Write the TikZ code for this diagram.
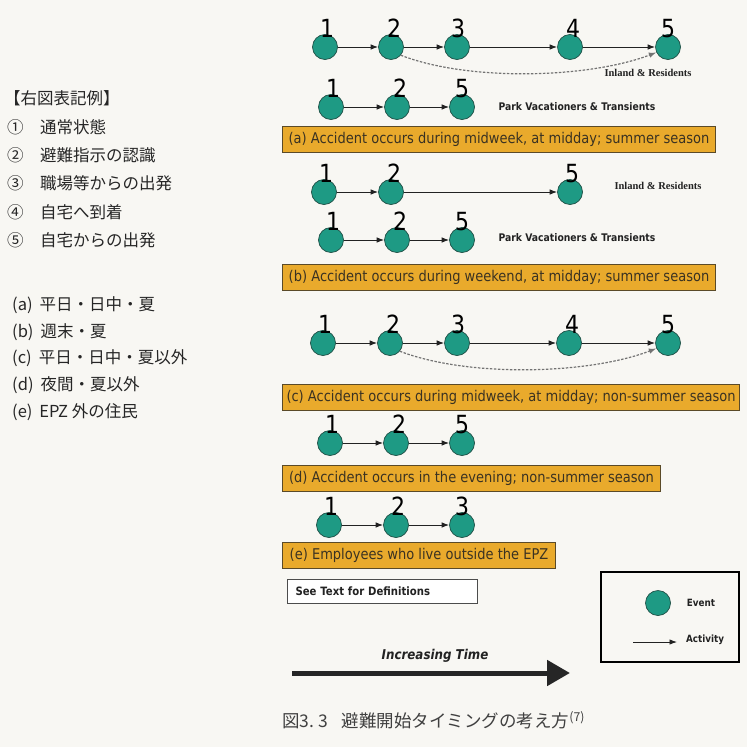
\documentclass[tikz,border=0pt]{standalone}
\usepackage{fontspec}
\setmainfont[FakeStretch=0.88]{DejaVu Sans}
\newfontfamily\tah[FakeStretch=0.88]{DejaVu Sans}
\newfontfamily\serb{Liberation Serif}
\newfontfamily\jp{Noto Sans CJK JP}
\usetikzlibrary{arrows.meta}
\definecolor{evfill}{HTML}{1E9A84}
\definecolor{evdraw}{HTML}{1F4F45}
\definecolor{banfill}{HTML}{E9AA2C}
\definecolor{bandraw}{HTML}{5A4A28}
\definecolor{bantext}{HTML}{3A3222}
\definecolor{paper}{HTML}{F8F7F3}
\definecolor{ink}{HTML}{222222}
\tikzset{
  ev/.style={circle, fill=evfill, draw=evdraw, line width=0.7pt, minimum size=25pt, inner sep=0pt},
  num/.style={font=\tah\fontsize{25}{25}\selectfont, text=black, anchor=base, inner sep=0pt},
  act/.style={-{Latex[length=7.5pt,width=5.5pt]}, line width=0.9pt, draw=ink},
  dsh/.style={-{Latex[length=7.5pt,width=5.5pt]}, line width=1.2pt, draw=black!55, dash pattern=on 2.5pt off 1.5pt},
  banner/.style={draw=bandraw, fill=banfill, line width=1pt, anchor=west, minimum height=26pt, inner xsep=4pt, text=bantext, font=\tah\fontsize{14.8}{15}\selectfont},
  grp/.style={font=\tah\bfseries\fontsize{10.5}{10.5}\selectfont, text=ink, inner sep=0pt},
  grps/.style={font=\serb\bfseries\fontsize{10.5}{10.5}\selectfont, text=ink, inner sep=0pt},
  jtxt/.style={font=\jp\fontsize{16.5}{17}\selectfont, text=black!85, anchor=west, inner sep=0pt},
  leg/.style={font=\tah\bfseries\fontsize{10}{10}\selectfont, text=ink, inner sep=0pt}
}
\begin{document}
\begin{tikzpicture}[x=1pt,y=-1pt]
\fill[paper] (0,0) rectangle (747,747);
\useasboundingbox (0,0) rectangle (747,747);

% left legend (Japanese)
\node[jtxt] (jh) at (4,98) {【右図表記例】};
\node[jtxt] (j1) at (7,127) {①　通常状態};
\node[jtxt] (j2) at (7,155) {②　避難指示の認識};
\node[jtxt] (j3) at (7,183) {③　職場等からの出発};
\node[jtxt] (j4) at (7,212) {④　自宅へ到着};
\node[jtxt] (j5) at (7,240) {⑤　自宅からの出発};
\node[jtxt] (ja) at (12,305) {(a)\hspace{7pt}平日・日中・夏};
\node[jtxt] (jb) at (12,332) {(b)\hspace{7pt}週末・夏};
\node[jtxt] (jc) at (12,358) {(c)\hspace{7pt}平日・日中・夏以外};
\node[jtxt] (jd) at (12,385) {(d)\hspace{7pt}夜間・夏以外};
\node[jtxt] (je) at (12,412) {(e)\hspace{7pt}EPZ 外の住民};

% ---- (a) row 1
\node[ev] (a1) at (325,47) {};
\node[ev] (a2) at (391,47) {};
\node[ev] (a3) at (457,47) {};
\node[ev] (a4) at (570,47) {};
\node[ev] (a5) at (668,47) {};
\node[num] (la1) at (327,37) {1};
\node[num] (la2) at (394,37) {2};
\node[num] (la3) at (458,37) {3};
\node[num] (la4) at (573,37) {4};
\node[num] (la5) at (668,37) {5};
\draw[act] (a1) -- (a2);
\draw[act] (a2) -- (a3);
\draw[act] (a3) -- (a4);
\draw[act] (a4) -- (a5);
\draw[dsh] (a2.-40) .. controls (470,82) and (590,78) .. (a5.205);
\node[grps] (ta1) at (648,73) {Inland \& Residents};
% ---- (a) row 2
\node[ev] (p1) at (331,107) {};
\node[ev] (p2) at (397,107) {};
\node[ev] (p3) at (462,107) {};
\node[num] (lp1) at (333,97) {1};
\node[num] (lp2) at (400,97) {2};
\node[num] (lp3) at (462,97) {5};
\draw[act] (p1) -- (p2);
\draw[act] (p2) -- (p3);
\node[grp] (tp1) at (577,107) {Park Vacationers \& Transients};
\node[banner, minimum width=433pt] (ba) at (282,139) {(a) Accident occurs during midweek, at midday; summer season};

% ---- (b) row 1
\node[ev] (b1) at (324,192) {};
\node[ev] (b2) at (391,192) {};
\node[ev] (b3) at (570,192) {};
\node[num] (lb1) at (326,182) {1};
\node[num] (lb2) at (394,182) {2};
\node[num] (lb3) at (572,182) {5};
\draw[act] (b1) -- (b2);
\draw[act] (b2) -- (b3);
\node[grps] (tb1) at (658,186) {Inland \& Residents};
% ---- (b) row 2
\node[ev] (q1) at (331,240) {};
\node[ev] (q2) at (397,240) {};
\node[ev] (q3) at (462,240) {};
\node[num] (lq1) at (333,230) {1};
\node[num] (lq2) at (400,230) {2};
\node[num] (lq3) at (462,230) {5};
\draw[act] (q1) -- (q2);
\draw[act] (q2) -- (q3);
\node[grp] (tq1) at (577,238) {Park Vacationers \& Transients};
\node[banner, minimum width=433pt] (bb) at (282,277) {(b) Accident occurs during weekend, at midday; summer season};

% ---- (c)
\node[ev] (c1) at (323,343) {};
\node[ev] (c2) at (390,343) {};
\node[ev] (c3) at (457,343) {};
\node[ev] (c4) at (569,343) {};
\node[ev] (c5) at (668,343) {};
\node[num] (lc1) at (325,333) {1};
\node[num] (lc2) at (393,333) {2};
\node[num] (lc3) at (458,333) {3};
\node[num] (lc4) at (572,333) {4};
\node[num] (lc5) at (668,333) {5};
\draw[act] (c1) -- (c2);
\draw[act] (c2) -- (c3);
\draw[act] (c3) -- (c4);
\draw[act] (c4) -- (c5);
\draw[dsh] (c2.-40) .. controls (470,378) and (590,374) .. (c5.205);
\node[banner, minimum width=453pt] (bc) at (282,397) {(c) Accident occurs during midweek, at midday; non-summer season};

% ---- (d)
\node[ev] (d1) at (330,443) {};
\node[ev] (d2) at (396,443) {};
\node[ev] (d3) at (462,443) {};
\node[num] (ld1) at (332,433) {1};
\node[num] (ld2) at (399,433) {2};
\node[num] (ld3) at (462,433) {5};
\draw[act] (d1) -- (d2);
\draw[act] (d2) -- (d3);
\node[banner, minimum width=378pt] (bd) at (282,478) {(d) Accident occurs in the evening; non-summer season};

% ---- (e)
\node[ev] (e1) at (329,525) {};
\node[ev] (e2) at (396,525) {};
\node[ev] (e3) at (462,525) {};
\node[num] (le1) at (331,515) {1};
\node[num] (le2) at (398,515) {2};
\node[num] (le3) at (462,515) {3};
\draw[act] (e1) -- (e2);
\draw[act] (e2) -- (e3);
\node[banner, minimum width=273pt] (be) at (282,555) {(e) Employees who live outside the EPZ};

% see text box
\node[draw=black!70, line width=1pt, fill=white, anchor=west, text width=174pt, align=left, inner xsep=8pt, minimum height=24pt, font=\tah\bfseries\fontsize{11.5}{11.5}\selectfont, text=ink] (see) at (287,591) {See Text for Definitions};

% legend box
\node[draw=black, line width=2.8pt, minimum width=138pt, minimum height=90pt, inner sep=0pt] (legbox) at (670,617) {};
\node[ev] (lev) at (658,603) {};
\node[leg] (levt) at (701,603) {Event};
\coordinate (acs) at (633,642);
\coordinate (ace) at (677,642);
\draw[act] (acs) -- (ace);
\node[leg] (lact) at (705,640) {Activity};

% increasing time
\node[font=\tah\bfseries\itshape\fontsize{13.5}{14}\selectfont, text=ink, inner sep=0pt] (it) at (435,656) {Increasing Time};
\coordinate (ts) at (292,673);
\coordinate (te) at (570,673);
\draw[line width=5pt, draw=black!85, -{Triangle[length=23pt,width=25pt]}] (ts) -- (te);

% caption
\node[jtxt, font=\jp\fontsize{17.5}{18}\selectfont, text=black!75] (cap) at (282,720) {図3.\hspace{4pt}3\hspace{14pt}避難開始タイミングの考え方\textsuperscript{(7)}};
\end{tikzpicture}
\end{document}
